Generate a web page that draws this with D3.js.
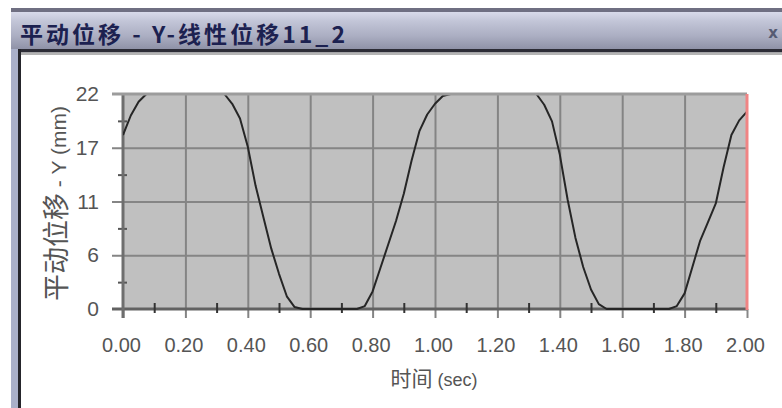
<!DOCTYPE html>
<html><head><meta charset="utf-8">
<script src="https://cdn.jsdelivr.net/npm/d3@7"></script>
<style>body{margin:0;background:#fff;}svg{display:block;}</style>
</head><body>
<svg id="c" width="782" height="408"></svg>
<script>
const windowTitle = "平动位移 - Y-线性位移11_2";
const yTitleCJK = "平动位移";
const yTitleLatin = " - Y (mm)";
const xTitleCJK = "时间";
const xTitleLatin = " (sec)";
const xTickValues = [0,0.2,0.4,0.6,0.8,1.0,1.2,1.4,1.6,1.8,2.0];
const xMinorTicks = [0.1,0.3,0.5,0.7,0.9,1.1,1.3,1.5,1.7,1.9];
const yTickValues = [0,5.5,11,16.5,22];
const yTickLabels = ["0","6","11","17","22"];
const yMinorTicks = [2.75,8.25,13.75,19.25];
const cursorTime = 2.0;
const timeSec = [0,0.025,0.05,0.075,0.1,0.125,0.15,0.175,0.2,0.225,0.25,0.275,0.3,0.325,0.35,0.375,0.4,0.425,0.45,0.475,0.5,0.525,0.55,0.575,0.6,0.625,0.65,0.675,0.7,0.725,0.75,0.775,0.8,0.825,0.85,0.875,0.9,0.925,0.95,0.975,1.0,1.025,1.05,1.075,1.1,1.125,1.15,1.175,1.2,1.225,1.25,1.275,1.3,1.325,1.35,1.375,1.4,1.425,1.45,1.475,1.5,1.525,1.55,1.575,1.6,1.625,1.65,1.675,1.7,1.725,1.75,1.775,1.8,1.825,1.85,1.875,1.9,1.925,1.95,1.975,2.0];
const dispY = [17.8,19.8,21.2,22,22,22,22,22,22,22,22,22,22,22,21.0,19.5,16.6,12.6,9.4,6.2,3.6,1.3,0.2,0,0,0,0,0,0,0,0,0.3,1.8,4.2,6.6,9.0,11.8,15.2,18.2,19.9,21.0,21.8,22,22,22,22,22,22,22,22,22,22,22,22,20.9,19.2,15.8,11.2,7.3,4.3,2.0,0.5,0,0,0,0,0,0,0,0,0,0.3,1.6,4.3,7.0,8.9,10.8,14.5,17.8,19.3,20.2];

const svg = d3.select("#c");
const W = 782, H = 408;
const L = 123, R = 747, T = 94, B = 309;
const x = d3.scaleLinear().domain([0,2]).range([L,R]);
const y = d3.scaleLinear().domain([0,22]).range([B,T]);

// window frame
const defs = svg.append("defs");
const g1 = defs.append("linearGradient").attr("id","tb").attr("x1",0).attr("y1",0).attr("x2",0).attr("y2",1);
[["0%","#d8daea"],["25%","#c2c5d7"],["65%","#abaec2"],["100%","#8f92a7"]].forEach(s=>g1.append("stop").attr("offset",s[0]).attr("stop-color",s[1]));
svg.append("rect").attr("x",0).attr("y",0).attr("width",W).attr("height",H).attr("fill","#fff");
svg.append("rect").attr("x",11).attr("y",8).attr("width",W-11).attr("height",4).attr("fill","#6f6f82");
svg.append("rect").attr("x",11).attr("y",12).attr("width",W-11).attr("height",37).attr("fill","url(#tb)");
svg.append("rect").attr("x",11).attr("y",49).attr("width",W-11).attr("height",3.5).attr("fill","#2c2c36");
svg.append("rect").attr("x",21).attr("y",52.5).attr("width",W-21).attr("height",2.5).attr("fill","#b4b4b4");
svg.append("rect").attr("x",11).attr("y",49).attr("width",7).attr("height",H-49).attr("fill","#aab0c9");
svg.append("rect").attr("x",18).attr("y",49).attr("width",3).attr("height",H-49).attr("fill","#25252b");
svg.append("text").attr("x",20).attr("y",43).text(windowTitle)
  .attr("font-family","'Noto Sans CJK SC', sans-serif").attr("font-weight","bold").attr("font-size",23)
  .attr("fill","#1c2150").attr("textLength",325).attr("lengthAdjust","spacing");
svg.append("text").attr("x",773).attr("y",38).attr("text-anchor","middle").text("x")
  .attr("font-family","'DejaVu Sans', sans-serif").attr("font-weight","bold").attr("font-size",15).attr("fill","#565b72");

// plot background
svg.append("rect").attr("x",L).attr("y",T).attr("width",R-L).attr("height",B-T).attr("fill","#c0c0c0");

// vertical grid (extending as ticks below axis)
const gx = svg.append("g").attr("transform",`translate(0,318)`)
  .call(d3.axisTop(x).tickValues(xTickValues.filter(v=>v>0 && v<2)).tickSize(318-T).tickFormat(""));
gx.select(".domain").remove();
gx.selectAll("line").attr("stroke","#848484").attr("stroke-width",2);
// tick stubs below axis at 0 and 2
const gx0 = svg.append("g").attr("transform",`translate(0,318)`)
  .call(d3.axisTop(x).tickValues([0,2]).tickSize(9).tickFormat(""));
gx0.select(".domain").remove();
gx0.selectAll("line").attr("stroke","#888").attr("stroke-width",2);

// horizontal grid (extending as ticks left of axis)
const gy = svg.append("g").attr("transform",`translate(112,0)`)
  .call(d3.axisRight(y).tickValues(yTickValues.filter(v=>v>0 && v<22)).tickSize(R-112).tickFormat(""));
gy.select(".domain").remove();
gy.selectAll("line").attr("stroke","#858585").attr("stroke-width",2);

// bottom axis line
svg.append("line").attr("x1",112).attr("x2",R).attr("y1",y(0)).attr("y2",y(0)).attr("stroke","#626262").attr("stroke-width",3);

// minor ticks
const mx = svg.append("g").attr("transform",`translate(0,313)`)
  .call(d3.axisTop(x).tickValues(xMinorTicks).tickSize(10).tickFormat(""));
mx.select(".domain").remove();
mx.selectAll("line").attr("stroke","#333").attr("stroke-width",2);
const my = svg.append("g").attr("transform",`translate(118,0)`)
  .call(d3.axisRight(y).tickValues(yMinorTicks).tickSize(9).tickFormat(""));
my.select(".domain").remove();
my.selectAll("line").attr("stroke","#555").attr("stroke-width",2);

// left axis line
svg.append("line").attr("x1",L).attr("x2",L).attr("y1",T).attr("y2",318).attr("stroke","#6e6e6e").attr("stroke-width",3);

// curve
svg.append("clipPath").attr("id","pc").append("rect").attr("x",L).attr("y",T-1).attr("width",R-L).attr("height",B-T+3);
const pts = timeSec.map((t,i)=>[t,dispY[i]]);
svg.append("path").datum(pts).attr("clip-path","url(#pc)")
  .attr("d",d3.line().x(d=>x(d[0])).y(d=>y(d[1])))
  .attr("fill","none").attr("stroke","#262626").attr("stroke-width",2).attr("stroke-linejoin","round");

// top border line (covers plateau)
svg.append("line").attr("x1",112).attr("x2",R).attr("y1",y(22)).attr("y2",y(22)).attr("stroke","#9c9c9c").attr("stroke-width",3.2);

// red cursor
svg.append("line").attr("x1",x(cursorTime)).attr("x2",x(cursorTime)).attr("y1",T).attr("y2",310).attr("stroke","#f08484").attr("stroke-width",3);

// tick labels
const ax = svg.append("g").attr("transform",`translate(-2,${B})`)
  .call(d3.axisBottom(x).tickValues(xTickValues).tickSize(0).tickPadding(29).tickFormat(d3.format(".2f")));
ax.select(".domain").remove();
ax.selectAll("text").attr("font-family","'Liberation Sans', Arial, sans-serif").attr("font-size",20).attr("fill","#555");
const ay = svg.append("g").attr("transform",`translate(${L},0)`)
  .call(d3.axisLeft(y).tickValues(yTickValues).tickSize(0).tickPadding(24).tickFormat((d,i)=>yTickLabels[i]));
ay.select(".domain").remove();
ay.selectAll("text").attr("font-family","'Liberation Sans', Arial, sans-serif").attr("font-size",21).attr("fill","#555");

// axis titles
const xt = svg.append("text").attr("x",(x(0)+x(2))/2 - 1).attr("y",386).attr("text-anchor","middle").attr("fill","#555");
xt.append("tspan").text(xTitleCJK).attr("font-family","'Noto Sans CJK SC', sans-serif").attr("font-size",21);
xt.append("tspan").text(xTitleLatin).attr("font-family","'Liberation Sans', Arial, sans-serif").attr("font-size",18);

const yt = svg.append("text").attr("transform",`translate(66,${(T+B)/2+2}) rotate(-90)`).attr("text-anchor","middle").attr("fill","#555");
yt.append("tspan").text(yTitleCJK).attr("font-family","'Noto Sans CJK SC', sans-serif").attr("font-size",27);
yt.append("tspan").text(yTitleLatin).attr("font-family","'Liberation Sans', Arial, sans-serif").attr("font-size",21);
</script>
</body></html>
